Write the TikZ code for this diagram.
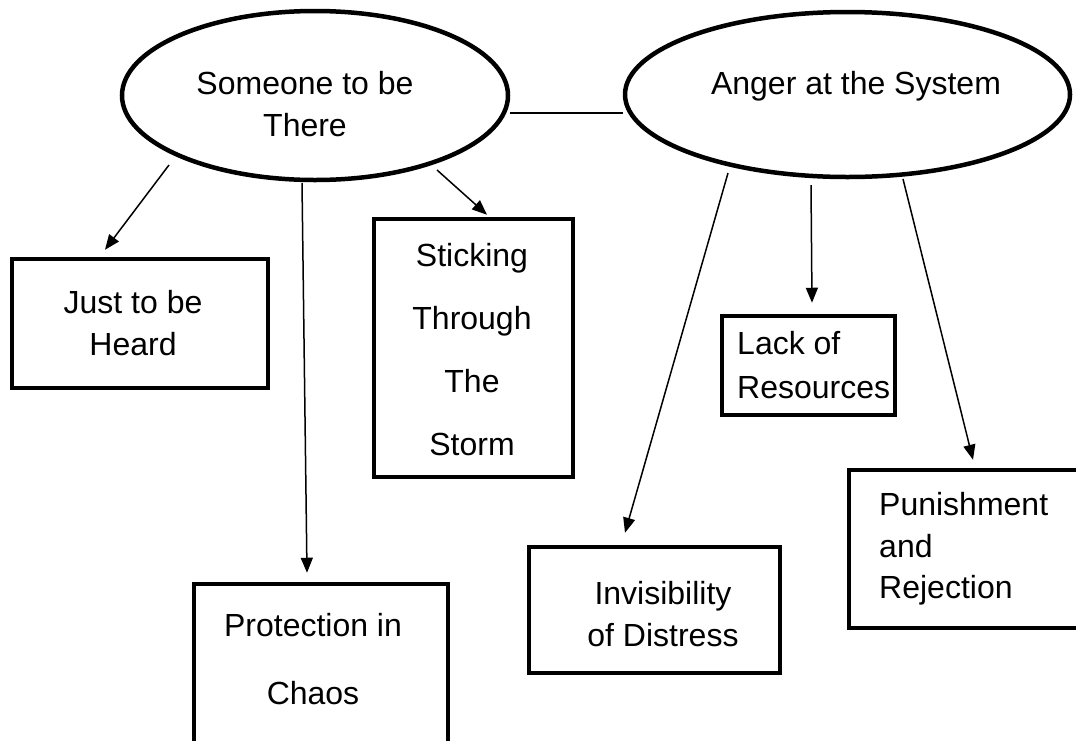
\documentclass[tikz,border=0pt]{standalone}
\usepackage{fontspec}
\setmainfont{Liberation Sans}
\usetikzlibrary{shapes.geometric,arrows.meta,calc}
\begin{document}
\begin{tikzpicture}[x=1pt,y=-1pt,
  oval/.style={draw,ellipse,line width=4.5pt,inner sep=0pt},
  box/.style={draw,rectangle,line width=4.5pt,inner sep=0pt},
  lbl/.style={font=\fontsize{32}{42}\selectfont,align=center,inner sep=0pt},
  link/.style={line width=1.5pt},
  arr/.style={line width=1.5pt,-{Triangle[length=15pt,width=12pt]}}]
\useasboundingbox (0,0) rectangle (1076,740);

% central themes
\node[oval,minimum width=386,minimum height=169] (e1) at (315,95.5) {};
\node[oval,minimum width=445,minimum height=165] (e2) at (847.5,94.5) {};
\node[lbl] (t1) at (305,104) {Someone to be\\There};
\node[lbl] (t2) at (856,86) {Anger at the System};

% sub-themes
\node[box,minimum width=256,minimum height=129] (heard) at (140,323.5) {};
\node[box,minimum width=199,minimum height=258] (storm) at (473.5,348) {};
\node[box,minimum width=254,minimum height=216] (prot) at (321,692) {};
\node[box,minimum width=251,minimum height=126] (invis) at (654.5,610) {};
\node[box,minimum width=173,minimum height=99] (lack) at (808.5,365.5) {};
\node[box,minimum width=251,minimum height=158] (pun) at (974.5,549) {};

\node[lbl] (theard) at (133,323.5) {Just to be\\Heard};
\node[lbl,font=\fontsize{32}{63}\selectfont] (tstorm) at (472,350) {Sticking\\Through\\The\\Storm};
\node[lbl,font=\fontsize{32}{68}\selectfont] (tprot) at (313,659) {Protection in\\Chaos};
\node[lbl] (tinvis) at (663,614) {Invisibility\\of Distress};
\node[lbl,align=left,anchor=west,font=\fontsize{32}{44}\selectfont] (tlack) at (737,365) {Lack of\\Resources};
\node[lbl,align=left,anchor=west,font=\fontsize{32}{41.5}\selectfont] (tpun) at (879,549) {Punishment\\and\\Rejection};

% connectors
\draw[link] ([yshift=-17.5pt]e1.east) -- ([yshift=-18.5pt]e2.west);
\draw[arr] ($(e1.center)+(-146,69.5)$) -- ($(heard.north)+(-35,-7)$);
\draw[arr] ($(e1.center)+(-13,87.5)$) -- ($(prot.north)+(-14,-9)$);
\draw[arr] ($(e1.center)+(122,74.5)$) -- ($(storm.north)+(13.5,-2)$);
\draw[arr] ($(e2.center)+(-119.5,78.5)$) -- ($(invis.north)+(-29.5,-12)$);
\draw[arr] ($(e2.center)+(-36.5,90.5)$) -- ($(lack.north)+(3.5,-11)$);
\draw[arr] ($(e2.center)+(55.5,84.5)$) -- ($(pun.north)+(-1.5,-8)$);
\end{tikzpicture}
\end{document}
